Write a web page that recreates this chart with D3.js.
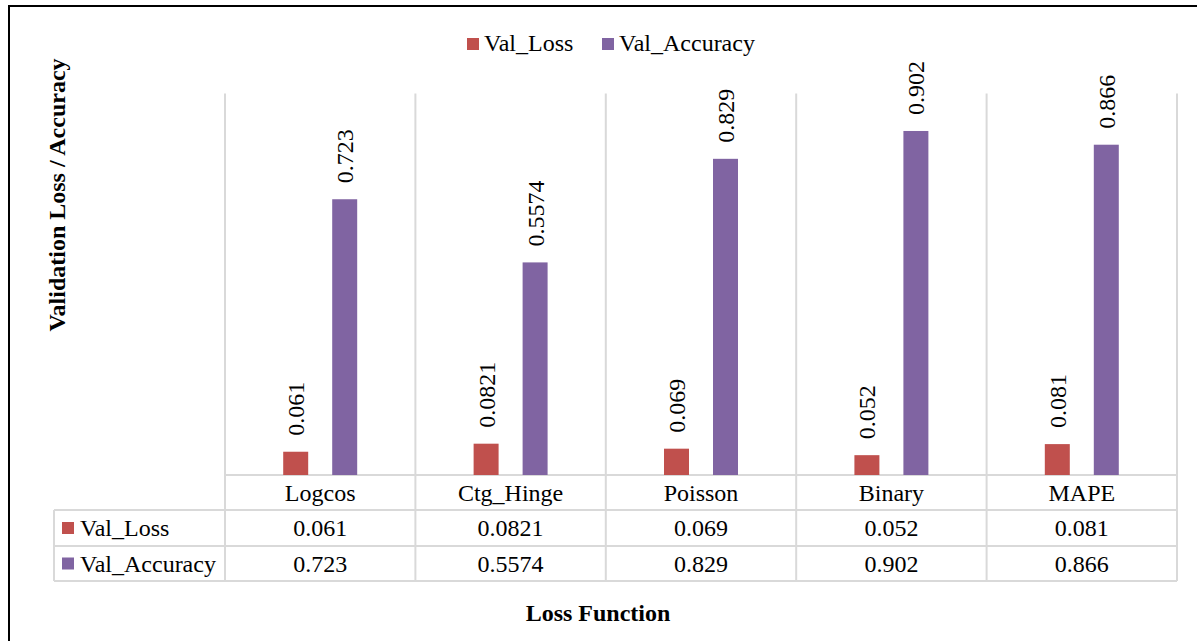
<!DOCTYPE html>
<html>
<head>
<meta charset="utf-8">
<script src="https://cdn.jsdelivr.net/npm/d3@7"></script>
<style>
  html, body { margin: 0; padding: 0; background: #fff; }
  svg { display: block; }
</style>
</head>
<body>
<svg id="chart" width="1197" height="641"></svg>
<script>
// Validation loss / accuracy per loss function
const categories = ["Logcos", "Ctg_Hinge", "Poisson", "Binary", "MAPE"];
const seriesNames = ["Val_Loss", "Val_Accuracy"];
const valLoss = [0.061, 0.0821, 0.069, 0.052, 0.081];
const valAccuracy = [0.723, 0.5574, 0.829, 0.902, 0.866];
const valLossLabels = ["0.061", "0.0821", "0.069", "0.052", "0.081"];
const valAccuracyLabels = ["0.723", "0.5574", "0.829", "0.902", "0.866"];
const yDomain = [0, 1];

const colors = { Val_Loss: "#C0504D", Val_Accuracy: "#8064A2" };
const gridColor = "#D9D9D9";
const fontSize = 24;
const serif = "'Liberation Serif', 'Times New Roman', Tinos, 'DejaVu Serif', serif";

const seriesValues = { Val_Loss: valLoss, Val_Accuracy: valAccuracy };
const seriesLabels = { Val_Loss: valLossLabels, Val_Accuracy: valAccuracyLabels };

const svg = d3.select("#chart")
  .attr("font-family", serif)
  .style("font-family", serif);

// plot geometry
const plotLeft = 225, plotRight = 1177, plotTop = 93.6, baseline = 475;
const tableLeft = 54;
const rowBottoms = [510, 546, 581];

const x0 = d3.scaleBand().domain(categories).range([plotLeft, plotRight]).padding(0);
const x1 = d3.scaleBand().domain(seriesNames).range([0, x0.bandwidth()])
  .paddingInner(0.49).paddingOuter(1.188);
const y = d3.scaleLinear().domain(yDomain).range([baseline, plotTop]);

// outer frame
svg.append("rect")
  .attr("x", 9).attr("y", 6).attr("width", 1300).attr("height", 800)
  .attr("fill", "none").attr("stroke", "#000").attr("stroke-width", 2);

// vertical category dividers (plot + data table)
const grid = svg.append("g").attr("stroke", gridColor).attr("stroke-width", 2);
const boundaries = categories.map(c => x0(c)).concat([plotRight]);
boundaries.forEach(bx => {
  grid.append("line").attr("x1", bx).attr("x2", bx)
    .attr("y1", y(yDomain[1])).attr("y2", rowBottoms[2]);
});
// table horizontal rules
grid.append("line").attr("x1", plotLeft).attr("x2", plotRight)
  .attr("y1", baseline).attr("y2", baseline);
rowBottoms.forEach(ry => {
  grid.append("line").attr("x1", tableLeft).attr("x2", plotRight)
    .attr("y1", ry).attr("y2", ry);
});
grid.append("line").attr("x1", tableLeft).attr("x2", tableLeft)
  .attr("y1", rowBottoms[0]).attr("y2", rowBottoms[2]);

// bars
const groups = svg.append("g").selectAll("g")
  .data(categories).join("g")
  .attr("transform", c => `translate(${x0(c)},0)`);

groups.selectAll("rect")
  .data((c, i) => seriesNames.map(s => ({ s, v: seriesValues[s][i] })))
  .join("rect")
  .attr("x", d => x1(d.s))
  .attr("width", x1.bandwidth())
  .attr("y", d => y(d.v))
  .attr("height", d => y(0) - y(d.v))
  .attr("fill", d => colors[d.s]);

// rotated value labels above bars
groups.selectAll("text.val")
  .data((c, i) => seriesNames.map(s => ({ s, v: seriesValues[s][i], t: seriesLabels[s][i] })))
  .join("text")
  .attr("class", "val")
  .attr("transform", d => `translate(${x1(d.s) + x1.bandwidth() / 2},${y(d.v) - 16}) rotate(-90)`)
  .attr("dy", "0.35em")
  .attr("text-anchor", "start")
  .attr("font-size", fontSize)
  .text(d => d.t);

// data table: category row
svg.append("g").selectAll("text")
  .data(categories).join("text")
  .attr("x", c => x0(c) + x0.bandwidth() / 2)
  .attr("y", (baseline + rowBottoms[0]) / 2)
  .attr("dy", "0.35em")
  .attr("text-anchor", "middle")
  .attr("font-size", fontSize)
  .text(c => c);

// data table: series rows
seriesNames.forEach((s, r) => {
  const top = rowBottoms[r], bottom = rowBottoms[r + 1];
  const mid = (top + bottom) / 2;
  svg.append("rect")
    .attr("x", 62).attr("y", mid - 6).attr("width", 12).attr("height", 12)
    .attr("fill", colors[s]);
  svg.append("text")
    .attr("x", 80).attr("y", mid).attr("dy", "0.35em")
    .attr("font-size", fontSize)
    .text(s);
  svg.append("g").selectAll("text")
    .data(categories).join("text")
    .attr("x", c => x0(c) + x0.bandwidth() / 2)
    .attr("y", mid).attr("dy", "0.35em")
    .attr("text-anchor", "middle")
    .attr("font-size", fontSize)
    .text((c, i) => seriesLabels[s][i]);
});

// legend
const legendItems = [{ s: "Val_Loss", x: 467 }, { s: "Val_Accuracy", x: 602 }];
const legend = svg.append("g");
legendItems.forEach(item => {
  legend.append("rect")
    .attr("x", item.x).attr("y", 38).attr("width", 12).attr("height", 12)
    .attr("fill", colors[item.s]);
  legend.append("text")
    .attr("x", item.x + 17).attr("y", 43).attr("dy", "0.35em")
    .attr("font-size", fontSize)
    .text(item.s);
});

// axis titles
svg.append("text")
  .attr("transform", "translate(57,195) rotate(-90)")
  .attr("dy", "0.35em")
  .attr("text-anchor", "middle")
  .attr("font-size", fontSize).attr("font-weight", "bold")
  .text("Validation Loss / Accuracy");

svg.append("text")
  .attr("x", 598).attr("y", 613).attr("dy", "0.35em")
  .attr("text-anchor", "middle")
  .attr("font-size", fontSize).attr("font-weight", "bold")
  .text("Loss Function");
</script>
</body>
</html>
